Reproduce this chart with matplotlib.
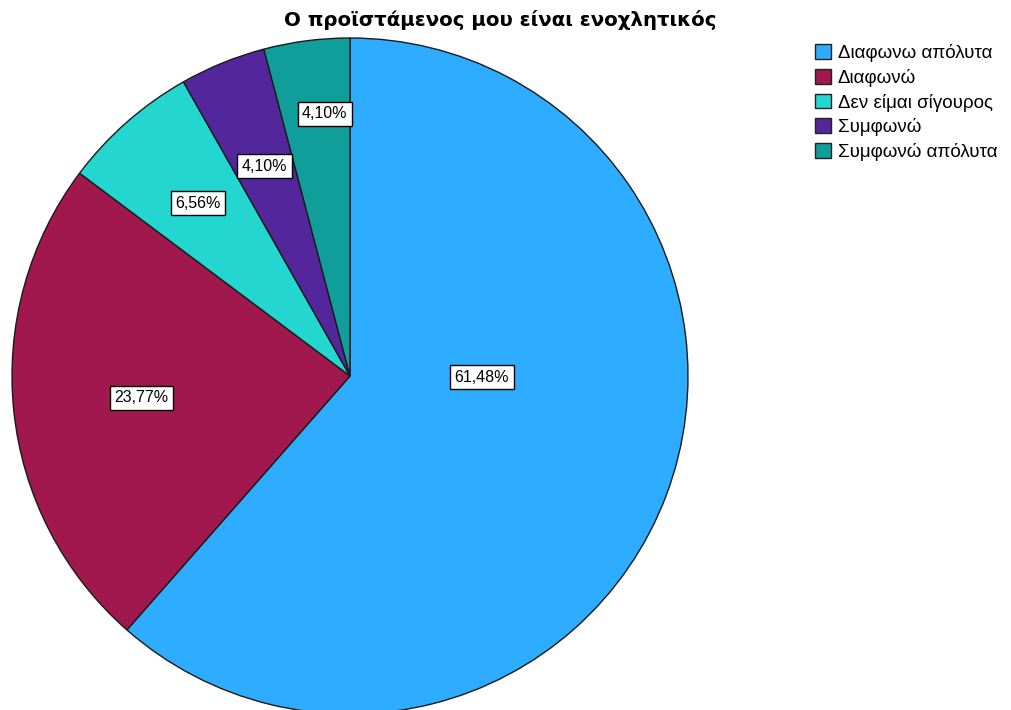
import numpy as np
import matplotlib
matplotlib.use("Agg")
import matplotlib.pyplot as plt
from matplotlib.patches import Patch

plt.rcParams['font.family'] = ['Liberation Sans', 'DejaVu Sans']

# Responses and their shares (%)
categories = ["Διαφωνω απόλυτα", "Διαφωνώ", "Δεν είμαι σίγουρος", "Συμφωνώ", "Συμφωνώ απόλυτα"]
shares = [61.48, 23.77, 6.56, 4.10, 4.10]
value_labels = ["61,48%", "23,77%", "6,56%", "4,10%", "4,10%"]
colors = ["#2eacff", "#a0184e", "#24d6d0", "#54269c", "#0f9e99"]
title = "Ο προϊστάμενος μου είναι ενοχλητικός"

# label placement: radius as fraction of pie radius, optional angle override (deg)
label_radius = [0.39, 0.62, 0.68, 0.67, 0.78]
label_angle = [-0.5, None, None, None, 95.5]

fig = plt.figure(figsize=(10.11, 7.10), dpi=100)
ax = fig.add_axes([12 / 1011, -4 / 710, 676 / 1011, 676 / 710])
wedges, _ = ax.pie(shares, colors=colors, startangle=90, counterclock=False,
                   radius=1.0, wedgeprops=dict(edgecolor="#1a1a1a", linewidth=1.0))
ax.set_xlim(-1.0, 1.0)
ax.set_ylim(-1.0, 1.0)
ax.axis("off")

for w, lab, r, ang in zip(wedges, value_labels, label_radius, label_angle):
    a = ang if ang is not None else (w.theta1 + w.theta2) / 2
    x = r * np.cos(np.radians(a))
    y = r * np.sin(np.radians(a))
    ax.text(x, y, lab, ha="center", va="center", fontsize=11.5, color="black",
            bbox=dict(boxstyle="square,pad=0.28", facecolor="white",
                      edgecolor="black", linewidth=1.0))

fig.text(0.495, 1 - 20 / 710, title, ha="center", va="center",
         fontsize=14.2, fontweight="bold", family=["DejaVu Sans"])

handles = [Patch(facecolor=c, edgecolor="#222222", linewidth=1.0) for c in colors]
fig.legend(handles, categories, loc="upper left",
           bbox_to_anchor=(815 / 1011, 1 - 44 / 710), frameon=False,
           fontsize=13.5, handlelength=0.85, handleheight=0.85, handletextpad=0.37,
           labelspacing=0.36, borderaxespad=0, borderpad=0)

fig.savefig("out.png", dpi=100, facecolor="white")
